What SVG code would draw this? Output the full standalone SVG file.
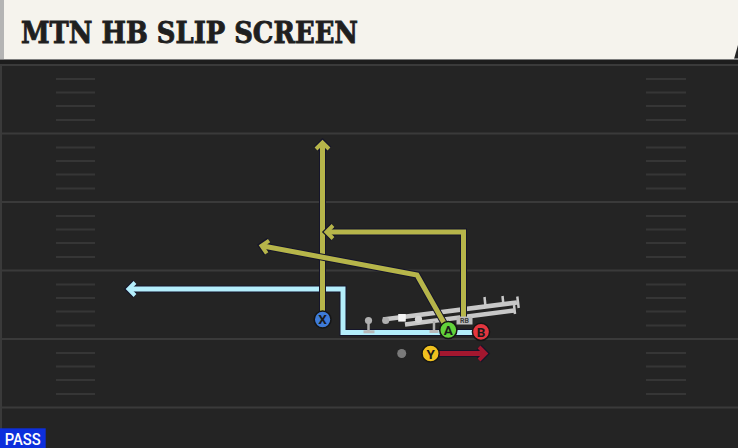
<svg xmlns="http://www.w3.org/2000/svg" width="738" height="448" viewBox="0 0 738 448">
<style>
.fl{stroke:#3a3a3a;stroke-width:2}
.hs{stroke:#363636;stroke-width:2}
.out{fill:none;stroke:#15152a;stroke-width:7;stroke-linejoin:miter}
.ry{fill:none;stroke:#b6b54a;stroke-width:5}
.rc{fill:none;stroke:#b4eefb;stroke-width:5}
.rr{fill:none;stroke:#a3172f;stroke-width:5}
.blk{fill:none;stroke:#c8c8c8;stroke-width:4.5;stroke-linecap:butt}
.tick{fill:none;stroke:#c8c8c8;stroke-width:2.5}
.head{fill:#b0b0b0}
.lbl{font-family:Roboto,"DejaVu Sans",sans-serif;font-weight:bold;font-size:13.5px;fill:#1a1a1a;text-anchor:middle}
.pl{stroke:#151515;stroke-width:1.5}
.ttl{font-family:"DejaVu Serif",serif;font-weight:900;font-size:29px;fill:#1f1f1f;stroke:#1f1f1f;stroke-width:0.9}
</style>
<defs>
<marker id="mO" markerUnits="userSpaceOnUse" markerWidth="30" markerHeight="30" refX="12" refY="12" orient="auto" overflow="visible"><path d="M7,5.5 L13.5,12 L7,18.5" fill="none" stroke="#15152a" stroke-width="6.5"/></marker>
<marker id="mY" markerUnits="userSpaceOnUse" markerWidth="30" markerHeight="30" refX="12" refY="12" orient="auto" overflow="visible"><path d="M7,5.5 L13.5,12 L7,18.5" fill="none" stroke="#b6b54a" stroke-width="4"/></marker>
<marker id="mC" markerUnits="userSpaceOnUse" markerWidth="30" markerHeight="30" refX="12" refY="12" orient="auto" overflow="visible"><path d="M7,5.5 L13.5,12 L7,18.5" fill="none" stroke="#b4eefb" stroke-width="4"/></marker>
<marker id="mR" markerUnits="userSpaceOnUse" markerWidth="30" markerHeight="30" refX="12" refY="12" orient="auto" overflow="visible"><path d="M7,5.5 L13.5,12 L7,18.5" fill="none" stroke="#a3172f" stroke-width="4"/></marker>
</defs>
<g id="field">
<rect width="738" height="448" fill="#242424"/>
<rect x="0" y="60" width="2" height="388" fill="#3a3a3a"/>
<rect x="0" y="59" width="738" height="6" fill="#1d1d1d"/>
<line class="fl" x1="0" y1="65" x2="738" y2="65"/>
<line class="fl" x1="0" y1="133.5" x2="738" y2="133.5"/>
<line class="fl" x1="0" y1="202" x2="738" y2="202"/>
<line class="fl" x1="0" y1="270.5" x2="738" y2="270.5"/>
<line class="fl" x1="0" y1="339" x2="738" y2="339"/>
<line class="fl" x1="0" y1="407.5" x2="738" y2="407.5"/>
<path class="hs" d="M56,79H95M56,92.5H95M56,106H95M56,120H95M56,147.5H95M56,161H95M56,174.5H95M56,188.5H95M56,216H95M56,229.5H95M56,243H95M56,257H95M56,284.5H95M56,298H95M56,311.5H95M56,325.5H95M56,353H95M56,366.5H95M56,380H95M56,394H95"/>
<path class="hs" d="M646,79H686M646,92.5H686M646,106H686M646,120H686M646,147.5H686M646,161H686M646,174.5H686M646,188.5H686M646,216H686M646,229.5H686M646,243H686M646,257H686M646,284.5H686M646,298H686M646,311.5H686M646,325.5H686M646,353H686M646,366.5H686M646,380H686M646,394H686"/>
</g>
<g id="title">
<rect x="0" y="58" width="738" height="2" fill="#7c7c7c"/>
<path d="M4,0H738V45L734,59H4Z" fill="#f5f3ed"/>
<rect x="0" y="0" width="4" height="59" fill="#b4b4b4"/>
<text class="ttl" x="21" y="42.7" textLength="337" lengthAdjust="spacingAndGlyphs">MTN HB SLIP SCREEN</text>
</g>
<g id="connectors">
<g id="route-B">
<path class="out" d="M480,332.5H343V289H130" marker-end="url(#mO)"/>
<path class="rc" d="M480,332.5H343V289H130" marker-end="url(#mC)"/>
</g>
<g id="ol-blocks">
<path class="blk" d="M383,319.5L517,302.5M405,324.5L514,310.5"/>
<path class="tick" d="M517.3,296.5L518.7,308M484.5,297L485.5,306.5M502.5,296L503.5,305.5M514,305L515,314"/>
</g>
<g id="route-X">
<path class="out" d="M322.5,320V144" marker-end="url(#mO)"/>
<path class="ry" d="M322.5,320V144" marker-end="url(#mY)"/>
</g>
<g id="route-RB">
<path class="out" d="M463.5,318V232H328" marker-end="url(#mO)"/>
<path class="ry" d="M463.5,318V232H328" marker-end="url(#mY)"/>
</g>
<g id="route-A">
<path class="out" d="M448,330L417,275L263,246" marker-end="url(#mO)"/>
<path class="ry" d="M448,330L417,275L263,246" marker-end="url(#mY)"/>
</g>
<g id="route-Y">
<path class="out" d="M432,353.5H484" marker-end="url(#mO)"/>
<path class="rr" d="M432,353.5H484" marker-end="url(#mR)"/>
</g>
</g>
<g id="lineman-LT">
<line x1="368.5" y1="321" x2="368.5" y2="331" stroke="#b0b0b0" stroke-width="2.5"/>
<line x1="363.5" y1="331.8" x2="374.5" y2="331.8" stroke="#b8b8b8" stroke-width="3"/>
<circle class="head" cx="368.5" cy="320.5" r="3.6"/>
</g>
<g id="lineman-LG"><circle class="head" cx="385.7" cy="320.5" r="3.6"/></g>
<g id="lineman-C"><rect x="398.2" y="314" width="7.6" height="7.6" fill="#f4f4f4"/></g>
<g id="lineman-RG"><circle cx="418.5" cy="319.3" r="3.6" fill="#d6d6d6"/></g>
<g id="lineman-RT">
<line x1="434" y1="321" x2="434" y2="331" stroke="#b0b0b0" stroke-width="2.5"/>
<line x1="429.5" y1="331.5" x2="438.5" y2="331.5" stroke="#b8b8b8" stroke-width="3"/>
</g>
<g id="player-QB"><circle cx="401.7" cy="353.5" r="4.5" fill="#7a7a7a"/></g>
<g id="player-RB">
<path d="M456.5,324.5V318.5Q456.5,316.5 458.5,316.5H470.5Q472.5,316.5 472.5,318.5V324.5Z" fill="#bdbdbd"/>
<text x="464.5" y="323.3" font-family="Roboto,'DejaVu Sans',sans-serif" font-size="7" font-weight="bold" fill="#3a3a3a" text-anchor="middle">RB</text>
</g>
<g id="player-X">
<circle class="pl" cx="322.6" cy="319.5" r="8.4" fill="#3e7bd8"/>
<text class="lbl" x="322.6" y="324.4">X</text>
</g>
<g id="player-A">
<circle class="pl" cx="448.3" cy="330" r="8.6" fill="#62d23a"/>
<text class="lbl" x="448.3" y="335">A</text>
</g>
<g id="player-B">
<circle class="pl" cx="481" cy="331.8" r="8.6" fill="#e4363f"/>
<text class="lbl" x="481" y="336.8">B</text>
</g>
<g id="player-Y">
<circle class="pl" cx="430.6" cy="353.5" r="8.6" fill="#f0c11f"/>
<text class="lbl" x="430.6" y="358.5">Y</text>
</g>
<g id="pass-tag">
<rect x="0" y="428.3" width="45.7" height="19.7" fill="#0d2fdc"/>
<text x="4.7" y="444.5" font-family="Roboto,'DejaVu Sans',sans-serif" font-weight="500" font-size="16" fill="#ffffff" textLength="36" lengthAdjust="spacingAndGlyphs">PASS</text>
</g>
</svg>
